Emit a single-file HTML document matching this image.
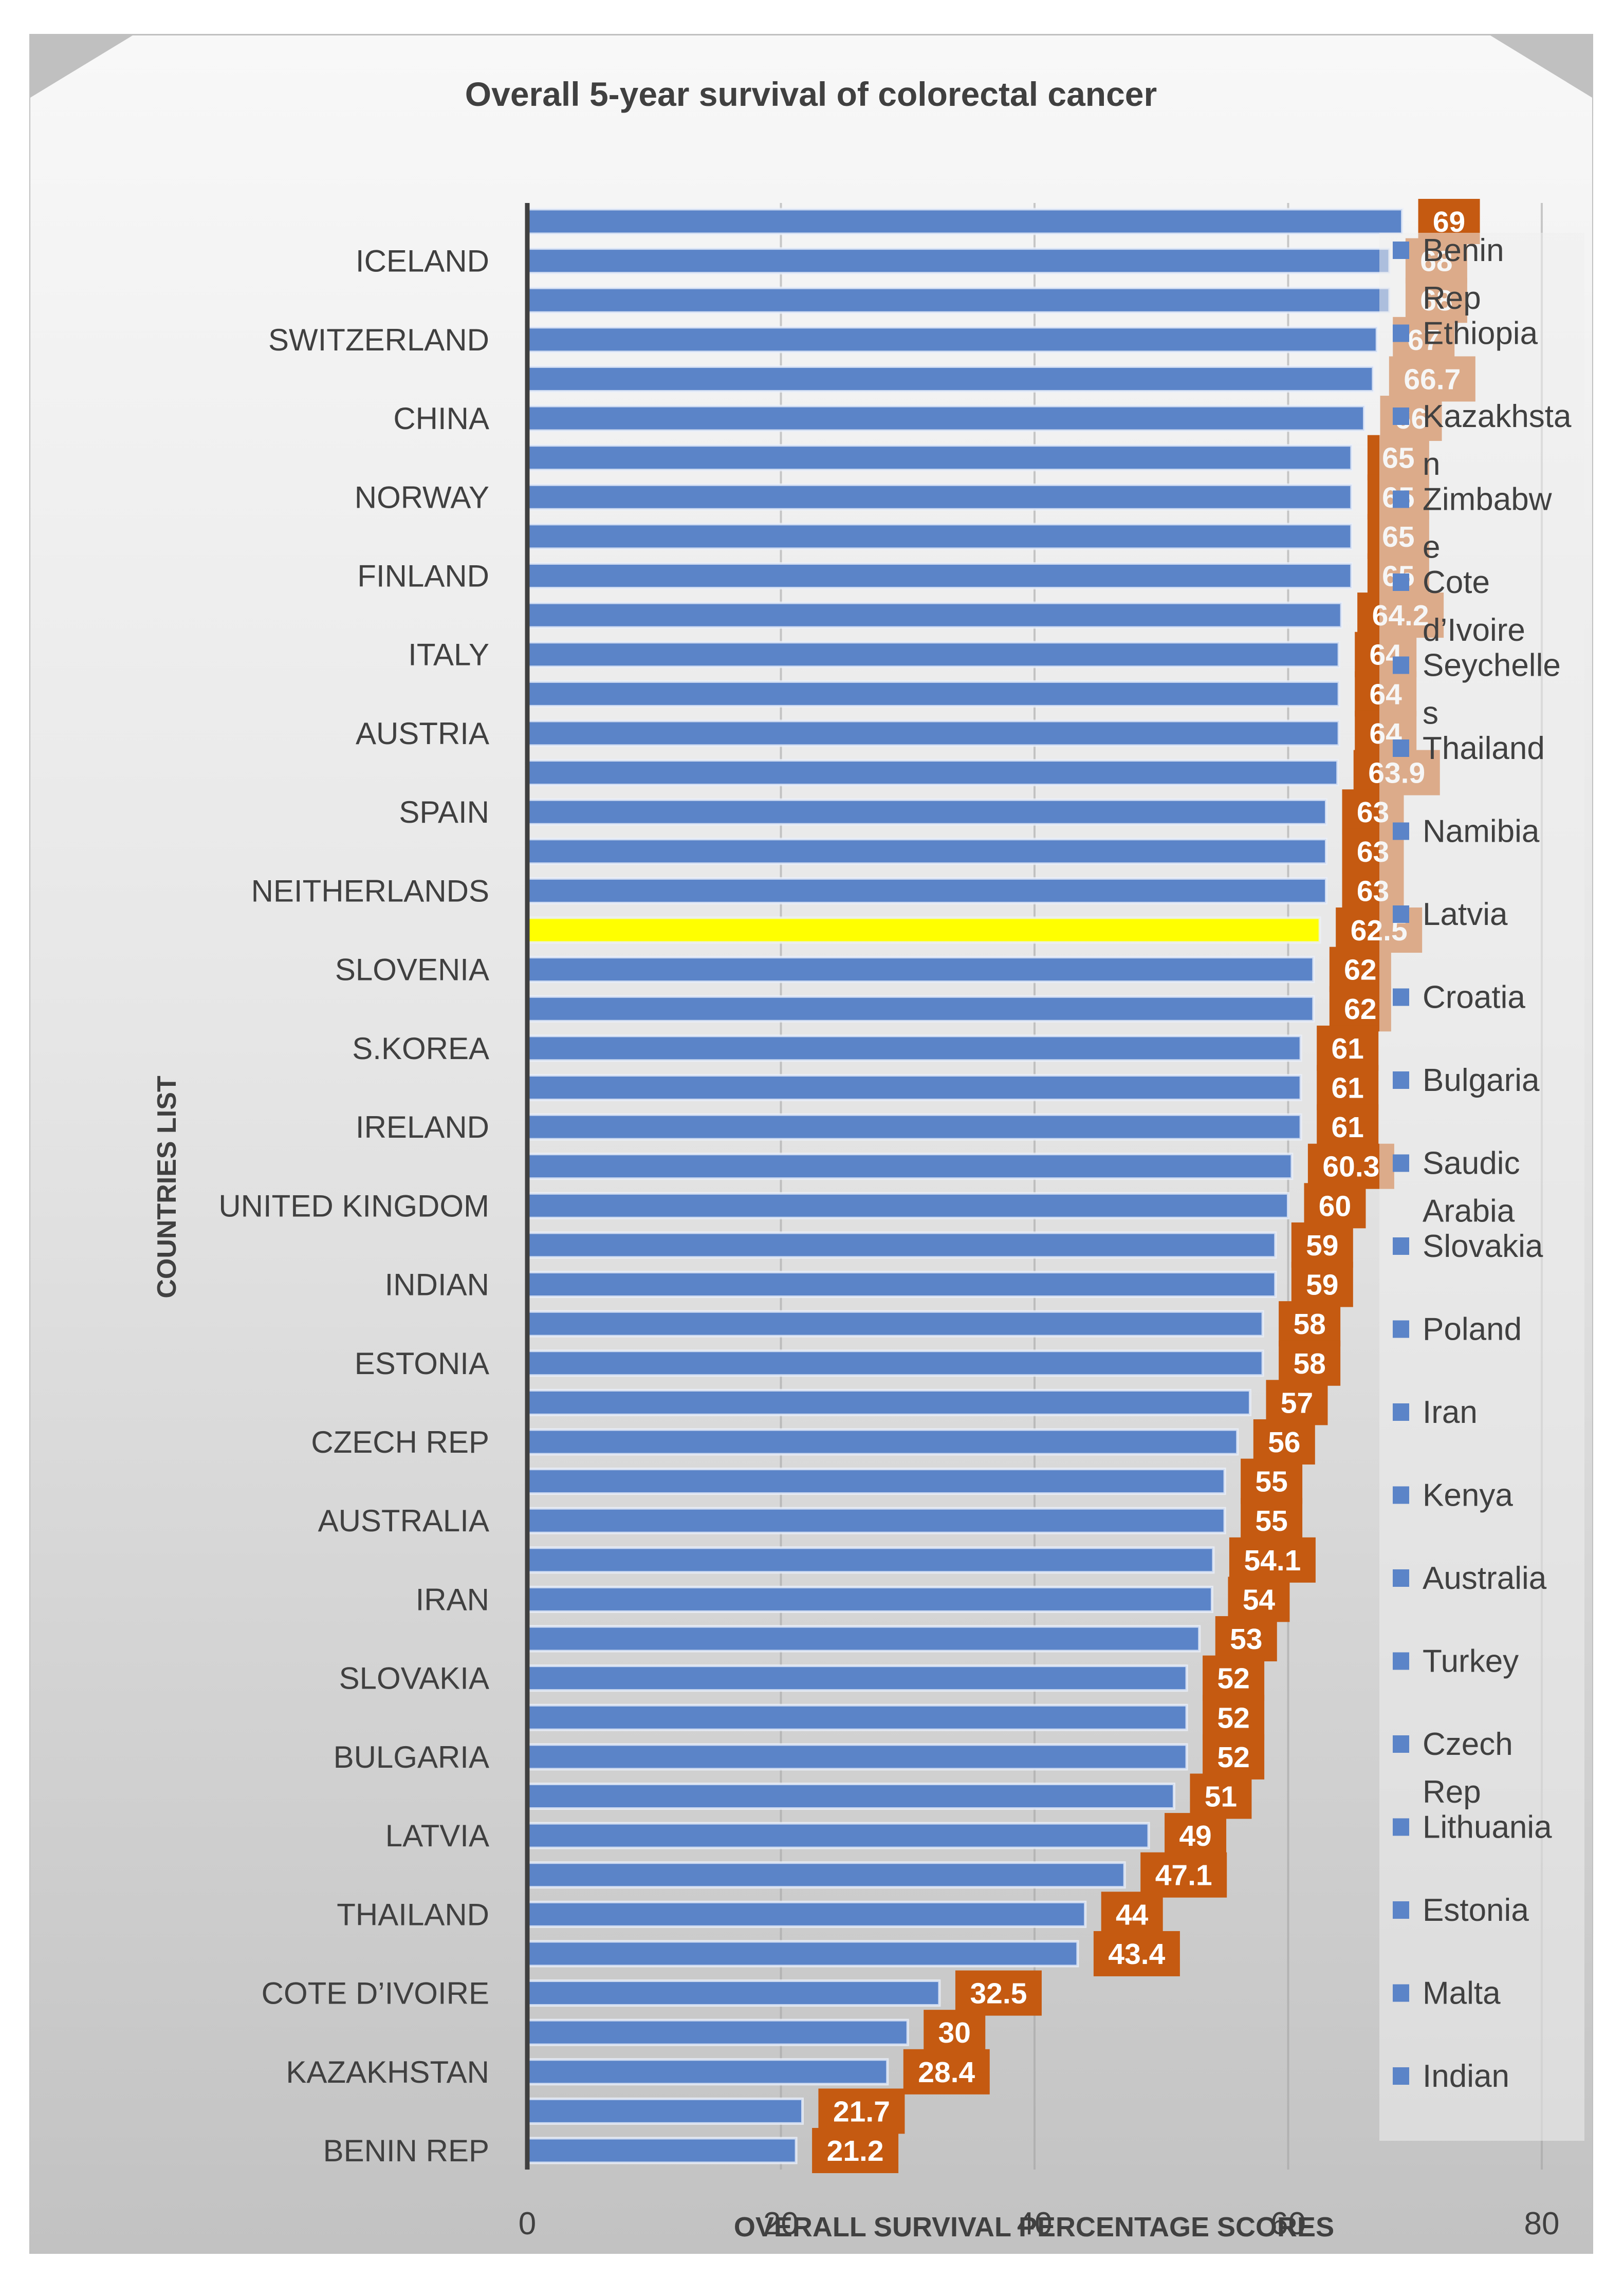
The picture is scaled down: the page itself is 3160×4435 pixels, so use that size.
<!DOCTYPE html>
<html><head><meta charset="utf-8"><style>
html,body{margin:0;padding:0;background:#fff}
svg{display:block}
text{font-family:"Liberation Sans",sans-serif}
</style></head><body>
<svg id="chart" width="3160" height="4435" viewBox="0 0 3160 4435" xmlns="http://www.w3.org/2000/svg">
<defs>
<linearGradient id="bg" x1="0" y1="0" x2="0" y2="1">
<stop offset="0" stop-color="#f8f8f8"/><stop offset="0.45" stop-color="#e6e6e6"/><stop offset="1" stop-color="#c2c2c2"/>
</linearGradient>
</defs>
<rect x="57" y="66" width="3043" height="4320" fill="#c0c0c0"/>
<polygon points="258,69 2900,69 3098,190 3098,4384 59,4384 59,190" fill="url(#bg)"/>
<text x="1578" y="206" text-anchor="middle" font-size="66" font-weight="bold" fill="#404040">Overall 5-year survival of colorectal cancer</text>
<g id="grid"></g>
<g id="bars"></g>
<g id="labels"></g>
<rect x="2684" y="453" width="399" height="3713" fill="rgba(238,238,238,0.55)"/>
<g id="legend"></g>
<g id="cats"></g>
<g id="ticks"></g>
<text transform="translate(342,2310) rotate(-90)" text-anchor="middle" font-size="52" font-weight="bold" fill="#404040">COUNTRIES LIST</text>
<text x="2012" y="4352" text-anchor="middle" font-size="54" font-weight="bold" fill="#404040">OVERALL SURVIVAL PERCENTAGE SCORES</text>
</svg>
<script>
const categories=["USA","ICELAND","JAPAN","SWITZERLAND","ISRAEL","CHINA","SWEDEN","NORWAY","DENMARK","FINLAND","GERMANY","ITALY","BELGIUM","AUSTRIA","FRANCE","SPAIN","PORTUGAL","NEITHERLANDS","NEW ZEALAND","SLOVENIA","CANADA","S.KOREA","SINGAPORE","IRELAND","HUNGARY","UNITED KINGDOM","CYPRUS","INDIAN","MALTA","ESTONIA","LITHUANIA","CZECH REP","TURKEY","AUSTRALIA","KENYA","IRAN","POLAND","SLOVAKIA","SAUDI ARABIA","BULGARIA","CROATIA","LATVIA","NAMIBIA","THAILAND","SEYCHELLES","COTE D’IVOIRE","ZIMBABWE","KAZAKHSTAN","ETHIOPIA","BENIN REP"];
const values=[69,68,68,67,66.7,66,65,65,65,65,64.2,64,64,64,63.9,63,63,63,62.5,62,62,61,61,61,60.3,60,59,59,58,58,57,56,55,55,54.1,54,53,52,52,52,51,49,47.1,44,43.4,32.5,30,28.4,21.7,21.2];
const highlightIndex=18;
const xTicks=[0,20,40,60,80];
const legendNames=["Benin Rep","Ethiopia","Kazakhstan","Zimbabwe","Cote d’Ivoire","Seychelles","Thailand","Namibia","Latvia","Croatia","Bulgaria","Saudic Arabia","Slovakia","Poland","Iran","Kenya","Australia","Turkey","Czech Rep","Lithuania","Estonia","Malta","Indian"];
const legendLines=[["Benin","Rep"],["Ethiopia"],["Kazakhsta","n"],["Zimbabw","e"],["Cote","d’Ivoire"],["Seychelle","s"],["Thailand"],["Namibia"],["Latvia"],["Croatia"],["Bulgaria"],["Saudic","Arabia"],["Slovakia"],["Poland"],["Iran"],["Kenya"],["Australia"],["Turkey"],["Czech","Rep"],["Lithuania"],["Estonia"],["Malta"],["Indian"]];
const NS="http://www.w3.org/2000/svg";
const X0=1026,XW=(3000-1026)/80,Y0=431,STEP=(4185-431)/49,BH=48;
const xs=v=>X0+v*XW, ys=i=>Y0+i*STEP;
function mk(tag,attrs,parent){const e=document.createElementNS(NS,tag);for(const k in attrs)e.setAttribute(k,attrs[k]);parent.appendChild(e);return e;}
const grid=document.getElementById('grid');
xTicks.forEach((t,i)=>{if(t===0)return;
const l=mk('line',{x1:xs(t),x2:xs(t),y1:395,y2:4222,stroke:'#a0a0a0','stroke-width':4,'stroke-opacity':0.55},grid);

});
const bars=document.getElementById('bars');
values.forEach((v,i)=>{
const r=mk('rect',{x:X0,y:ys(i)-BH/2,width:xs(v)-X0,height:BH,fill:i===highlightIndex?'#ffff00':'#5b84c8',stroke:'rgba(235,240,250,0.8)','stroke-width':5},bars);

});
const ax=mk('line',{x1:X0,x2:X0,y1:395,y2:4222,stroke:'#404040','stroke-width':9},bars);


const labels=document.getElementById('labels');
values.forEach((v,i)=>{
const s=String(v);let tw=0;for(const c of s)tw+=(c==='.'?16:32);
const w=tw+56,x=xs(v)+31,y=ys(i);
const g=mk('g',{},labels);


mk('rect',{x:x,y:y-44,width:w,height:88,fill:'#c55a11'},g);
const t=mk('text',{x:x+w/2,y:y+20,'text-anchor':'middle','font-size':57,'font-weight':'bold',fill:'#fff'},g);
t.textContent=s;});
const cats=document.getElementById('cats');
categories.forEach((c,i)=>{if(i%2===0)return;
const t=mk('text',{x:952,y:ys(i)+21,'text-anchor':'end','font-size':60,fill:'#404040'},cats);


t.textContent=c;});
const ticks=document.getElementById('ticks');
xTicks.forEach(v=>{const t=mk('text',{x:xs(v),y:4348,'text-anchor':'middle','font-size':62,fill:'#404040'},ticks);


t.textContent=v;});
const lg=document.getElementById('legend');
legendLines.forEach((lines,i)=>{const y=487+i*161.5;
const g=mk('g',{},lg);


mk('rect',{x:2710,y:y-17,width:32,height:34,fill:'#5b84c8'},g);
lines.forEach((ln,j)=>{const t=mk('text',{x:2768,y:y+21+j*93,'font-size':62,fill:'#404040'},g);t.textContent=ln;});});
</script>
</body></html>
